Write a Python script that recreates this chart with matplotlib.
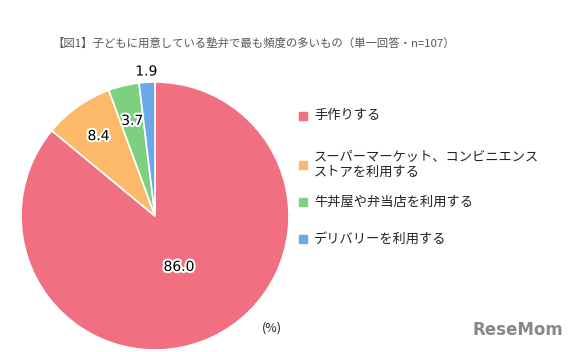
import matplotlib
matplotlib.use("Agg")
import matplotlib.pyplot as plt
import matplotlib.patheffects as pe
import numpy as np

plt.rcParams['font.family'] = ['Noto Sans CJK JP', 'DejaVu Sans']

categories = ["手作りする", "スーパーマーケット、コンビニエンス\nストアを利用する", "牛丼屋や弁当店を利用する", "デリバリーを利用する"]
values = [86.0, 8.4, 3.7, 1.9]
colors = ["#F07082", "#FDB96A", "#7DD07F", "#6AA8E8"]
label_dist = [0.42, 0.73, 0.73, 1.08]
title = "【図1】子どもに用意している塾弁で最も頻度の多いもの（単一回答・n=107）"

W, H = 579, 352
fig = plt.figure(figsize=(W/100, H/100), dpi=100)
cx, cy, r = 155, 216, 134
ax = fig.add_axes([(cx - r)/W, (H - cy - r)/H, 2*r/W, 2*r/H])
wedges, _ = ax.pie(values, colors=colors, startangle=90, counterclock=False,
                   wedgeprops=dict(edgecolor="white", linewidth=1.2))
ax.set_xlim(-1, 1); ax.set_ylim(-1, 1)
ax.set_aspect('equal')
for w, v, d in zip(wedges, values, label_dist):
    ang = np.deg2rad((w.theta1 + w.theta2) / 2)
    ax.text(d*np.cos(ang), d*np.sin(ang), f"{v:.1f}", ha='center', va='center',
            fontsize=10, color='black', family='DejaVu Sans',
            path_effects=[pe.withStroke(linewidth=3, foreground='white')])

fig.text(254/W, 1 - 43/H, title, ha='center', va='center', fontsize=8.2, color='#555555')

ys = [116, 165, 202, 239]
for c, lab, y in zip(colors, categories, ys):
    fig.patches.append(plt.Rectangle((299/W, 1 - (y + 4)/H), 8/W, 8/H,
                                     transform=fig.transFigure, color=c))
    fig.text(314/W, 1 - y/H, lab, ha='left', va='center', fontsize=9.5,
             color='#222222', linespacing=1.1)

fig.text(272/W, 1 - 328/H, "(%)", ha='center', va='center', fontsize=9, color='#222222')
fig.text(518/W, 1 - 330/H, "ReseMom", ha='center', va='center', fontsize=12,
         fontweight='bold', color='#888888', family='DejaVu Sans')

fig.savefig("out.png", dpi=100)
